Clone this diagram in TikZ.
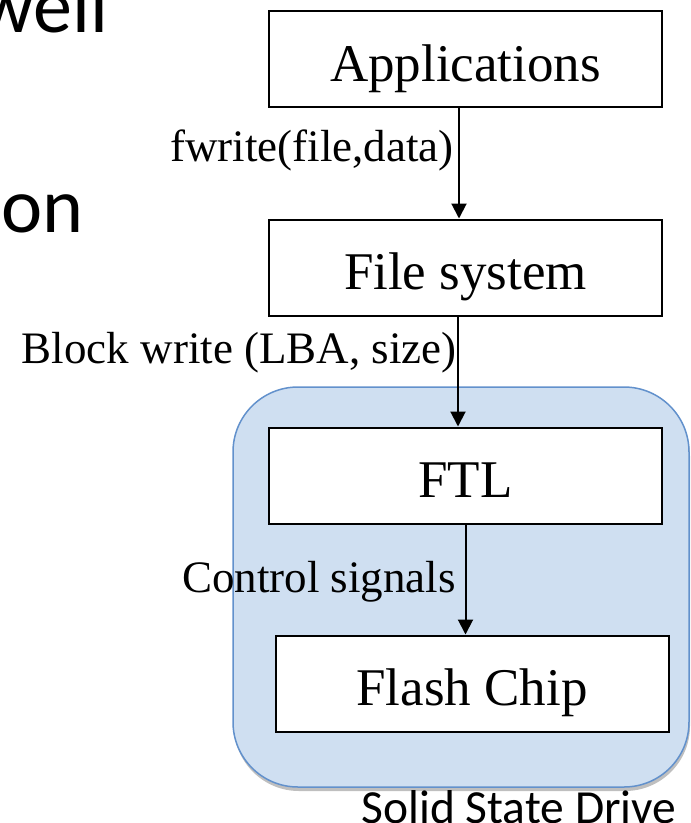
\documentclass[tikz,border=0pt]{standalone}
\usepackage{fontspec}
\setmainfont{Liberation Serif}
\newfontfamily\calfont{Carlito}
\usetikzlibrary{arrows.meta,shadows}
\definecolor{ssdfill}{RGB}{207,223,241}
\definecolor{ssdline}{RGB}{98,145,204}
\begin{document}
\begin{tikzpicture}[x=1pt,y=-1pt,
  box/.style={draw, line width=2pt, fill=white, minimum width=393pt, minimum height=96pt, inner sep=0pt, text height=44pt, text depth=0pt, font=\fontsize{53}{60}\selectfont},
  lbl/.style={anchor=base east, inner sep=0pt, font=\fontsize{45}{52}\selectfont},
  arr/.style={line width=2pt, -{Triangle[length=15pt,width=15pt]}},
  big/.style={anchor=base west, inner sep=0pt, font=\calfont\fontsize{78}{90}\selectfont}]
\useasboundingbox (0,0) rectangle (691,823);
\clip (0,0) rectangle (691,823);
\node[big] (t1) at (-22,32) {well};
\node[big] (t2) at (1,232) {on};
\node[draw=ssdline, line width=1.5pt, fill=ssdfill, rounded corners=65pt, minimum width=456pt, minimum height=400pt, drop shadow={shadow xshift=1pt, shadow yshift=-4pt, opacity=0.25, fill=black}] (ssd) at (461,587) {};
\node[box] (app) at (465.5,59) {Applications};
\node[box] (fs) at (465.5,267.5) {File system};
\node[box] (ftl) at (465.5,475.5) {FTL};
\node[box] (flash) at (472,683.5) {Flash Chip};
\draw[arr] ([xshift=-6.5pt]app.south) -- ([xshift=-6.5pt]app.south |- fs.north);
\draw[arr] ([xshift=-7.5pt]fs.south) -- ([xshift=-7.5pt]fs.south |- ftl.north);
\draw[arr] (ftl.south) -- (ftl.south |- flash.north);
\node[lbl] (l1) at (454,161) {fwrite(file,data)};
\node[lbl] (l2) at (457,363) {Block write (LBA, size)};
\node[lbl] (l3) at (456,592) {Control signals};
\node[anchor=base, inner sep=0pt, font=\calfont\fontsize{47.5}{54}\selectfont] (ssdl) at (519,823) {Solid State Drive};
\end{tikzpicture}
\end{document}
